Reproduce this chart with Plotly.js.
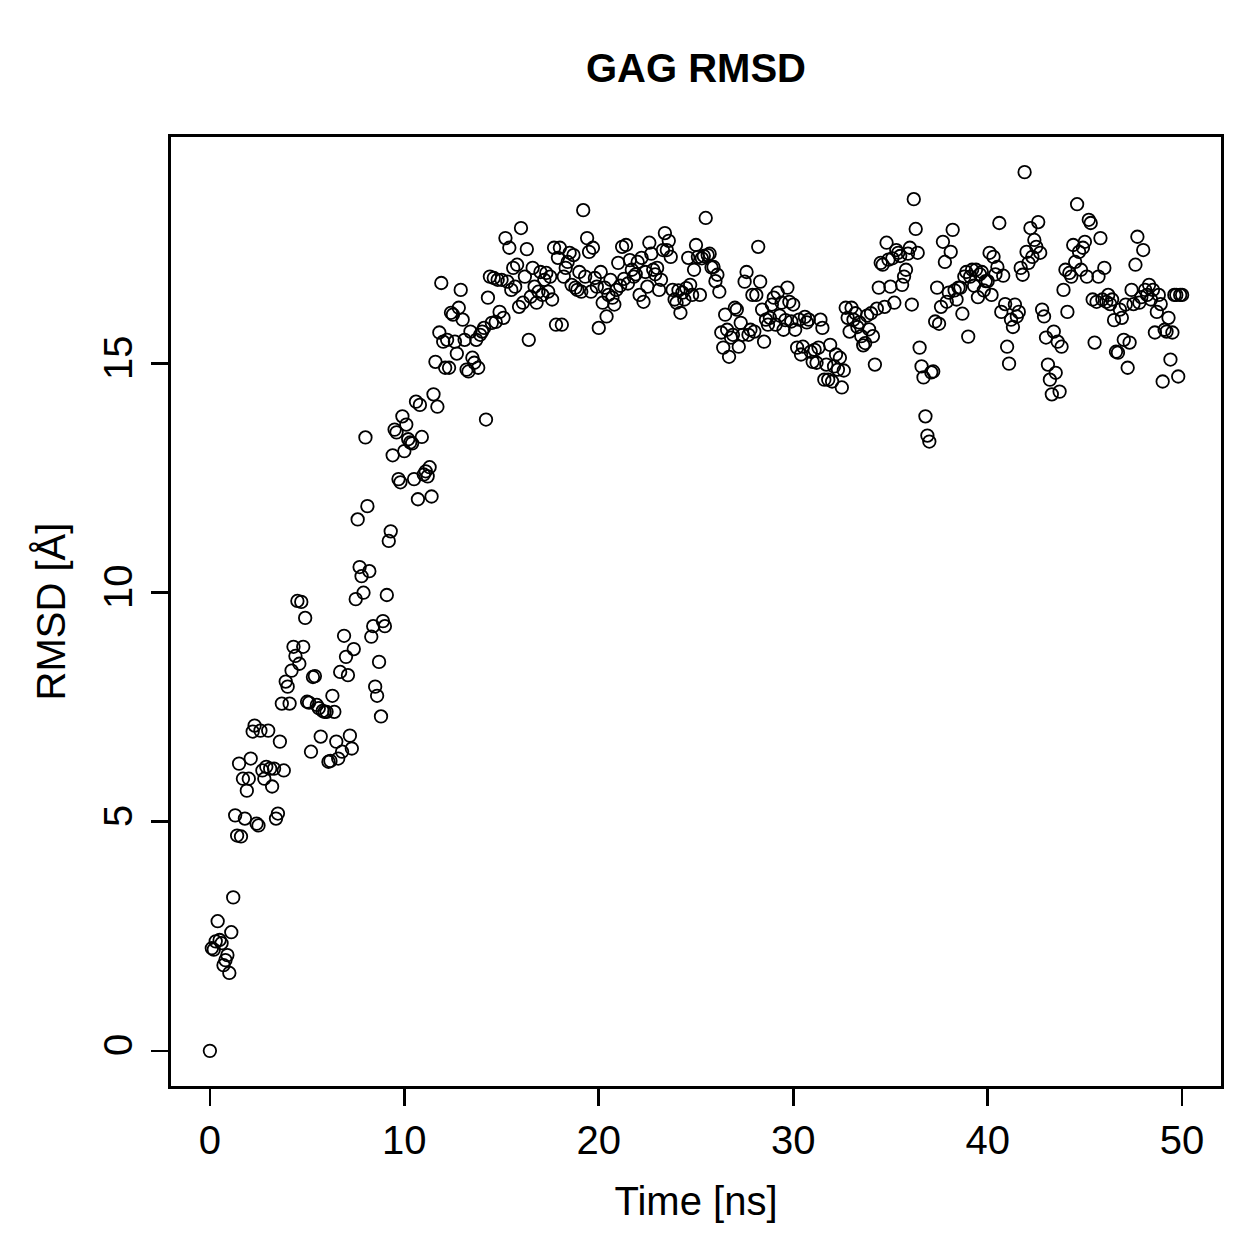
<!DOCTYPE html>
<html>
<head>
<meta charset="utf-8">
<script src="https://cdn.plot.ly/plotly-3.0.1.min.js"></script>
<style>
  html, body { margin: 0; padding: 0; background: #ffffff; }
  #chart { width: 1259px; height: 1259px; }
</style>
</head>
<body>
<div id="chart"></div>
<script>
// Simulation time of each frame, in ns
const timeNs = [
  0.0, 0.1, 0.2, 0.3, 0.4, 0.5, 0.6, 0.7, 0.8, 0.9,
  1.0, 1.1, 1.2, 1.3, 1.4, 1.5, 1.6, 1.7, 1.8, 1.9,
  2.0, 2.1, 2.2, 2.3, 2.4, 2.5, 2.6, 2.7, 2.8, 2.9,
  3.0, 3.1, 3.2, 3.3, 3.4, 3.5, 3.6, 3.7, 3.8, 3.9,
  4.0, 4.1, 4.2, 4.3, 4.4, 4.5, 4.6, 4.7, 4.8, 4.9,
  5.0, 5.1, 5.2, 5.3, 5.4, 5.5, 5.6, 5.7, 5.8, 5.9,
  6.0, 6.1, 6.2, 6.3, 6.4, 6.5, 6.6, 6.7, 6.8, 6.9,
  7.0, 7.1, 7.2, 7.3, 7.4, 7.5, 7.6, 7.7, 7.8, 7.9,
  8.0, 8.1, 8.2, 8.3, 8.4, 8.5, 8.6, 8.7, 8.8, 8.9,
  9.0, 9.1, 9.2, 9.3, 9.4, 9.5, 9.6, 9.7, 9.8, 9.9,
  10.0, 10.1, 10.2, 10.3, 10.4, 10.5, 10.6, 10.7, 10.8, 10.9,
  11.0, 11.1, 11.2, 11.3, 11.4, 11.5, 11.6, 11.7, 11.8, 11.9,
  12.0, 12.1, 12.2, 12.3, 12.4, 12.5, 12.6, 12.7, 12.8, 12.9,
  13.0, 13.1, 13.2, 13.3, 13.4, 13.5, 13.6, 13.7, 13.8, 13.9,
  14.0, 14.1, 14.2, 14.3, 14.4, 14.5, 14.6, 14.7, 14.8, 14.9,
  15.0, 15.1, 15.2, 15.3, 15.4, 15.5, 15.6, 15.7, 15.8, 15.9,
  16.0, 16.1, 16.2, 16.3, 16.4, 16.5, 16.6, 16.7, 16.8, 16.9,
  17.0, 17.1, 17.2, 17.3, 17.4, 17.5, 17.6, 17.7, 17.8, 17.9,
  18.0, 18.1, 18.2, 18.3, 18.4, 18.5, 18.6, 18.7, 18.8, 18.9,
  19.0, 19.1, 19.2, 19.3, 19.4, 19.5, 19.6, 19.7, 19.8, 19.9,
  20.0, 20.1, 20.2, 20.3, 20.4, 20.5, 20.6, 20.7, 20.8, 20.9,
  21.0, 21.1, 21.2, 21.3, 21.4, 21.5, 21.6, 21.7, 21.8, 21.9,
  22.0, 22.1, 22.2, 22.3, 22.4, 22.5, 22.6, 22.7, 22.8, 22.9,
  23.0, 23.1, 23.2, 23.3, 23.4, 23.5, 23.6, 23.7, 23.8, 23.9,
  24.0, 24.1, 24.2, 24.3, 24.4, 24.5, 24.6, 24.7, 24.8, 24.9,
  25.0, 25.1, 25.2, 25.3, 25.4, 25.5, 25.6, 25.7, 25.8, 25.9,
  26.0, 26.1, 26.2, 26.3, 26.4, 26.5, 26.6, 26.7, 26.8, 26.9,
  27.0, 27.1, 27.2, 27.3, 27.4, 27.5, 27.6, 27.7, 27.8, 27.9,
  28.0, 28.1, 28.2, 28.3, 28.4, 28.5, 28.6, 28.7, 28.8, 28.9,
  29.0, 29.1, 29.2, 29.3, 29.4, 29.5, 29.6, 29.7, 29.8, 29.9,
  30.0, 30.1, 30.2, 30.3, 30.4, 30.5, 30.6, 30.7, 30.8, 30.9,
  31.0, 31.1, 31.2, 31.3, 31.4, 31.5, 31.6, 31.7, 31.8, 31.9,
  32.0, 32.1, 32.2, 32.3, 32.4, 32.5, 32.6, 32.7, 32.8, 32.9,
  33.0, 33.1, 33.2, 33.3, 33.4, 33.5, 33.6, 33.7, 33.8, 33.9,
  34.0, 34.1, 34.2, 34.3, 34.4, 34.5, 34.6, 34.7, 34.8, 34.9,
  35.0, 35.1, 35.2, 35.3, 35.4, 35.5, 35.6, 35.7, 35.8, 35.9,
  36.0, 36.1, 36.2, 36.3, 36.4, 36.5, 36.6, 36.7, 36.8, 36.9,
  37.0, 37.1, 37.2, 37.3, 37.4, 37.5, 37.6, 37.7, 37.8, 37.9,
  38.0, 38.1, 38.2, 38.3, 38.4, 38.5, 38.6, 38.7, 38.8, 38.9,
  39.0, 39.1, 39.2, 39.3, 39.4, 39.5, 39.6, 39.7, 39.8, 39.9,
  40.0, 40.1, 40.2, 40.3, 40.4, 40.5, 40.6, 40.7, 40.8, 40.9,
  41.0, 41.1, 41.2, 41.3, 41.4, 41.5, 41.6, 41.7, 41.8, 41.9,
  42.0, 42.1, 42.2, 42.3, 42.4, 42.5, 42.6, 42.7, 42.8, 42.9,
  43.0, 43.1, 43.2, 43.3, 43.4, 43.5, 43.6, 43.7, 43.8, 43.9,
  44.0, 44.1, 44.2, 44.3, 44.4, 44.5, 44.6, 44.7, 44.8, 44.9,
  45.0, 45.1, 45.2, 45.3, 45.4, 45.5, 45.6, 45.7, 45.8, 45.9,
  46.0, 46.1, 46.2, 46.3, 46.4, 46.5, 46.6, 46.7, 46.8, 46.9,
  47.0, 47.1, 47.2, 47.3, 47.4, 47.5, 47.6, 47.7, 47.8, 47.9,
  48.0, 48.1, 48.2, 48.3, 48.4, 48.5, 48.6, 48.7, 48.8, 48.9,
  49.0, 49.1, 49.2, 49.3, 49.4, 49.5, 49.6, 49.7, 49.8, 49.9,
  50.0
];

// Backbone RMSD of the GAG chain at each frame, in Å
const rmsdAngstrom = [
  0.00, 2.24, 2.21, 2.39, 2.83, 2.42, 2.35, 1.87, 1.98, 2.09,
  1.70, 2.59, 3.35, 5.14, 4.70, 6.27, 4.68, 5.94, 5.07, 5.68,
  5.94, 6.38, 6.97, 7.10, 4.96, 4.92, 6.99, 6.12, 5.94, 6.20,
  6.99, 6.16, 5.77, 6.16, 5.07, 5.18, 6.75, 7.58, 6.12, 8.06,
  7.95, 7.58, 8.30, 8.82, 8.62, 9.82, 8.45, 9.80, 8.82, 9.45,
  7.62, 7.60, 6.53, 8.16, 8.18, 7.55, 7.48, 6.86, 7.42, 7.40,
  7.40, 6.31, 6.33, 7.75, 7.40, 6.75, 6.38, 8.27, 6.53, 9.06,
  8.60, 8.20, 6.88, 6.60, 8.77, 9.86, 11.60, 10.56, 10.36, 10.00,
  13.39, 11.89, 10.47, 9.04, 9.27, 7.95, 7.75, 8.49, 7.30, 9.38,
  9.27, 9.95, 11.13, 11.34, 13.00, 13.56, 13.50, 12.48, 12.41, 13.85,
  13.09, 13.67, 13.35, 13.28, 13.26, 12.48, 14.17, 12.04, 14.10, 13.40,
  12.58, 12.65, 12.54, 12.74, 12.10, 14.33, 15.04, 14.06, 15.68, 16.76,
  15.48, 14.91, 15.52, 14.91, 16.11, 16.07, 15.48, 15.22, 16.22, 16.61,
  15.96, 15.52, 14.87, 14.83, 15.70, 15.13, 15.02, 15.52, 14.91, 15.63,
  15.70, 15.78, 13.78, 16.44, 16.90, 15.89, 16.87, 15.91, 16.83, 16.13,
  16.83, 16.00, 17.74, 16.79, 17.53, 16.61, 17.09, 16.68, 17.16, 16.24,
  17.96, 16.33, 16.90, 17.50, 15.52, 16.46, 17.09, 16.68, 16.33, 16.57,
  17.00, 16.50, 16.83, 16.98, 16.57, 16.90, 16.40, 17.53, 15.85, 17.31,
  17.53, 15.85, 16.90, 17.09, 17.22, 17.42, 16.72, 17.37, 16.66, 16.61,
  17.00, 16.57, 18.35, 16.90, 17.74, 17.44, 16.57, 17.53, 16.87, 16.68,
  15.78, 17.00, 16.33, 16.66, 16.03, 16.50, 16.83, 16.44, 16.29, 16.61,
  17.20, 16.70, 17.55, 16.85, 17.59, 16.75, 17.26, 17.05, 16.90, 16.95,
  17.22, 16.50, 17.31, 16.35, 17.00, 16.68, 17.64, 17.40, 17.05, 16.95,
  17.09, 16.61, 16.83, 17.48, 17.85, 17.48, 17.68, 17.33, 16.61, 16.40,
  16.33, 16.60, 16.11, 16.55, 16.40, 16.65, 17.31, 16.72, 16.50, 17.05,
  17.59, 17.33, 16.50, 17.30, 17.35, 18.18, 17.37, 17.40, 17.10, 17.11,
  16.80, 16.94, 16.57, 15.68, 15.35, 16.07, 15.74, 15.15, 15.57, 15.63,
  16.22, 16.18, 15.37, 15.89, 15.63, 16.79, 17.00, 15.63, 15.74, 16.50,
  15.70, 16.50, 17.55, 16.79, 16.18, 15.48, 15.96, 15.85, 16.00, 16.29,
  16.44, 15.85, 16.55, 16.05, 16.33, 15.74, 15.95, 16.66, 16.35, 15.92,
  16.29, 15.74, 15.35, 15.96, 15.20, 15.37, 16.02, 15.90, 15.96, 15.26,
  15.04, 15.30, 15.02, 15.35, 15.96, 15.78, 14.65, 14.98, 14.65, 15.41,
  14.61, 14.94, 15.20, 14.87, 15.13, 14.48, 14.85, 16.22, 16.00, 15.70,
  16.22, 15.96, 16.10, 15.80, 15.90, 15.60, 15.40, 15.45, 16.05, 15.75,
  16.10, 15.60, 14.98, 16.20, 16.66, 17.20, 17.16, 16.24, 17.64, 17.27,
  16.68, 17.30, 16.33, 17.48, 17.42, 17.35, 16.72, 16.90, 17.05, 17.40,
  17.53, 16.29, 18.59, 17.94, 17.42, 15.35, 14.94, 14.70, 13.85, 13.43,
  13.30, 14.81, 14.83, 15.92, 16.66, 15.87, 16.24, 17.66, 17.22, 16.35,
  16.55, 17.44, 17.92, 16.60, 16.40, 16.66, 16.66, 16.09, 16.90, 17.00,
  15.59, 16.90, 17.05, 16.70, 17.05, 16.45, 16.95, 17.00, 16.60, 16.80,
  16.80, 17.42, 16.50, 17.33, 16.95, 17.11, 18.07, 16.13, 16.92, 16.30,
  15.37, 15.00, 15.96, 15.80, 16.29, 16.03, 16.13, 17.09, 16.94, 19.18,
  17.44, 17.20, 17.96, 17.33, 17.70, 17.55, 18.09, 17.42, 16.18, 16.03,
  15.57, 14.98, 14.65, 14.33, 15.70, 14.80, 15.48, 14.39, 15.37, 16.61,
  17.05, 16.13, 16.98, 16.90, 17.59, 17.22, 18.48, 17.44, 17.05, 17.53,
  17.66, 16.90, 18.14, 18.07, 16.40, 15.46, 16.35, 16.90, 17.74, 16.40,
  17.09, 16.35, 16.50, 16.30, 16.40, 15.95, 15.26, 15.24, 16.18, 16.00,
  15.52, 16.29, 14.91, 15.46, 16.61, 16.30, 17.16, 17.77, 16.33, 16.45,
  17.48, 16.61, 16.50, 16.72, 16.40, 16.61, 15.68, 16.13, 16.50, 16.30,
  14.61, 15.74, 15.70, 16.00, 15.09, 15.68, 16.50, 16.50, 14.72, 16.50,
  16.50
];

const xTicks = [0, 10, 20, 30, 40, 50];
const yTicks = [0, 5, 10, 15];

const FONT = '"Liberation Sans", Arial, Helvetica, sans-serif';

const trace = {
  type: 'scatter',
  mode: 'markers',
  x: timeNs,
  y: rmsdAngstrom,
  marker: {
    symbol: 'circle-open',
    size: 12.5,
    color: '#000000',
    line: { color: '#000000', width: 1.8 }
  },
  hoverinfo: 'x+y'
};

// Pad both axes by 4% of the data span, like base-graphics defaults
function padded(vals) {
  const lo = Math.min.apply(null, vals), hi = Math.max.apply(null, vals);
  const d = (hi - lo) * 0.04;
  return [lo - d, hi + d];
}

const axisCommon = {
  showgrid: false,
  zeroline: false,
  showline: true,
  mirror: true,
  linecolor: '#000000',
  linewidth: 2.6,
  ticks: 'outside',
  ticklen: 17,
  tickwidth: 2.6,
  tickcolor: '#000000',
  tickfont: { family: FONT, size: 40, color: '#000000' },
  tickmode: 'array',
  automargin: false
};

const layout = {
  width: 1259,
  height: 1259,
  paper_bgcolor: '#ffffff',
  plot_bgcolor: '#ffffff',
  showlegend: false,
  margin: { l: 171, r: 38, t: 137, b: 173 },
  title: {
    text: '<b>GAG RMSD</b>',
    font: { family: FONT, size: 40, color: '#000000' },
    x: 0.5,
    xref: 'paper',
    xanchor: 'center',
    y: 1 - 68 / 1259,
    yref: 'container',
    yanchor: 'middle'
  },
  xaxis: Object.assign({}, axisCommon, {
    range: padded(timeNs),
    tickvals: xTicks,
    ticktext: xTicks.map(String),
    ticklabelstandoff: 0,
    title: { text: 'Time [ns]', font: { family: FONT, size: 40, color: '#000000' }, standoff: 27 }
  }),
  yaxis: Object.assign({}, axisCommon, {
    range: padded(rmsdAngstrom),
    tickvals: yTicks,
    ticktext: yTicks.map(String),
    tickangle: -90,
    ticklabelstandoff: 3,
    title: { text: 'RMSD [Å]', font: { family: FONT, size: 40, color: '#000000' }, standoff: 19 }
  })
};

Plotly.newPlot('chart', [trace], layout, { displayModeBar: false, staticPlot: true });
</script>
</body>
</html>
